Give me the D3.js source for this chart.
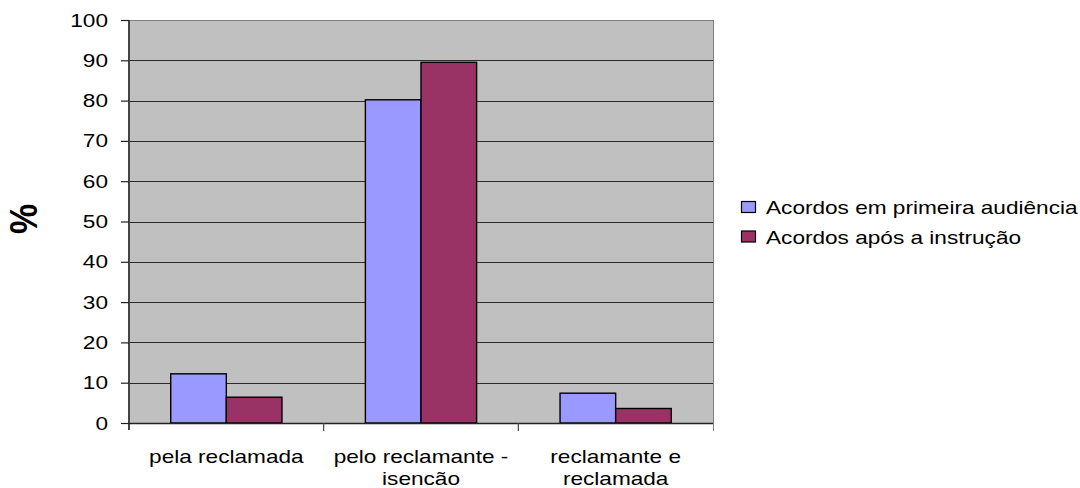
<!DOCTYPE html>
<html>
<head>
<meta charset="utf-8">
<script src="https://cdn.jsdelivr.net/npm/d3@7"></script>
<style>
  html, body { margin: 0; padding: 0; background: #fff; }
  svg { display: block; font-family: "Liberation Sans", Arial, sans-serif; }
</style>
</head>
<body>
<svg id="chart" width="1080" height="488"></svg>
<script>
// Categories (each label split into its display lines)
const categories = ["pela reclamada", "pelo reclamante - isencão", "reclamante e reclamada"];
const categoryLines = [["pela reclamada"], ["pelo reclamante -", "isencão"], ["reclamante e", "reclamada"]];
const seriesNames = ["Acordos em primeira audiência", "Acordos após a instrução"];
const primeiraAudiencia = [12.2, 80.2, 7.4];
const aposInstrucao = [6.4, 89.5, 3.6];
const yTicks = [0, 10, 20, 30, 40, 50, 60, 70, 80, 90, 100];
const seriesColors = ["#9999FF", "#993366"];

const svg = d3.select("#chart");
const plot = { left: 129, right: 713, top: 20, bottom: 423 };
const FONT = 19;       // text size
const STRETCH = 1.19;  // horizontal widening of the text face

const x = d3.scaleBand().domain(categories).range([plot.left, plot.right]).paddingInner(0).paddingOuter(0);
const y = d3.scaleLinear().domain([0, 100]).range([plot.bottom, plot.top]);
// Bars take 2 of 3.5 units of each category band (gap width 150%)
const barW = x.bandwidth() / 3.5;

// Widened text placed at (px, py)
function label(parent, px, py, str, anchor) {
  return parent.append("text")
    .attr("transform", `translate(${px},${py}) scale(${STRETCH},1)`)
    .attr("text-anchor", anchor || "start")
    .attr("font-size", FONT)
    .attr("fill", "#000")
    .text(str);
}

// Plot background
svg.append("rect")
  .attr("x", plot.left).attr("y", plot.top)
  .attr("width", plot.right - plot.left).attr("height", plot.bottom - plot.top)
  .attr("fill", "#C0C0C0");

// Gridlines
svg.append("g").selectAll("line")
  .data(yTicks.filter(t => t > 0))
  .join("line")
  .attr("x1", plot.left).attr("x2", plot.right)
  .attr("y1", d => Math.round(y(d)) + 0.5).attr("y2", d => Math.round(y(d)) + 0.5)
  .attr("stroke", d => d === 100 ? "#808080" : "#2a2a2a")
  .attr("stroke-width", 1.2);

// Right border of plot area
svg.append("line")
  .attr("x1", plot.right + 0.5).attr("x2", plot.right + 0.5)
  .attr("y1", plot.top).attr("y2", plot.bottom + 8)
  .attr("stroke", "#808080");

// Bars
const series = [primeiraAudiencia, aposInstrucao];
series.forEach((vals, si) => {
  svg.append("g").selectAll("rect")
    .data(vals)
    .join("rect")
    .attr("x", (d, i) => x(categories[i]) + 0.75 * barW + si * barW)
    .attr("y", d => y(d))
    .attr("width", barW)
    .attr("height", d => y(0) - y(d))
    .attr("fill", seriesColors[si])
    .attr("stroke", "#000")
    .attr("stroke-width", 1.4);
});

// Y axis
const yAxis = d3.axisLeft(y).tickValues(yTicks).tickSize(8).tickPadding(8);
const gy = svg.append("g").attr("transform", `translate(${plot.left},0)`).call(yAxis);
gy.select(".domain").attr("stroke", "#444").attr("stroke-width", 2)
  .attr("d", `M0,${plot.top}V${plot.bottom + 7}`);
gy.selectAll(".tick line").attr("stroke", "#222").attr("stroke-width", 1.2);
gy.selectAll(".tick text")
  .attr("x", 0)
  .attr("transform", `translate(-21,0) scale(${STRETCH},1)`)
  .attr("font-size", FONT).attr("fill", "#000")
  .attr("font-family", "'Liberation Sans', Arial, sans-serif");

// X axis line and category boundary ticks
svg.append("line")
  .attr("x1", plot.left).attr("x2", plot.right)
  .attr("y1", plot.bottom + 0.5).attr("y2", plot.bottom + 0.5)
  .attr("stroke", "#222").attr("stroke-width", 1.5);
const boundaries = categories.slice(1).map(c => x(c));
svg.append("g").selectAll("line")
  .data(boundaries)
  .join("line")
  .attr("x1", d => d).attr("x2", d => d)
  .attr("y1", plot.bottom).attr("y2", plot.bottom + 8)
  .attr("stroke", "#444").attr("stroke-width", 1.2);

// Category labels
const gx = svg.append("g");
categories.forEach((c, i) => {
  categoryLines[i].forEach((line, li) => {
    label(gx, x(c) + x.bandwidth() / 2, 463 + li * 22, line, "middle");
  });
});

// Y axis title
svg.append("text")
  .attr("transform", `translate(37,219) scale(1.12,1) rotate(-90)`)
  .attr("text-anchor", "middle")
  .attr("font-size", 34)
  .attr("font-weight", "bold")
  .attr("fill", "#000")
  .text("%");

// Legend
const legend = svg.append("g");
seriesNames.forEach((name, i) => {
  const cy = 207 + i * 29.5;
  legend.append("rect")
    .attr("x", 741.5).attr("y", cy - 5.5)
    .attr("width", 14).attr("height", 11)
    .attr("fill", seriesColors[i]).attr("stroke", "#000").attr("stroke-width", 1.2);
  label(legend, 766, cy + 7, name, "start");
});
</script>
</body>
</html>
